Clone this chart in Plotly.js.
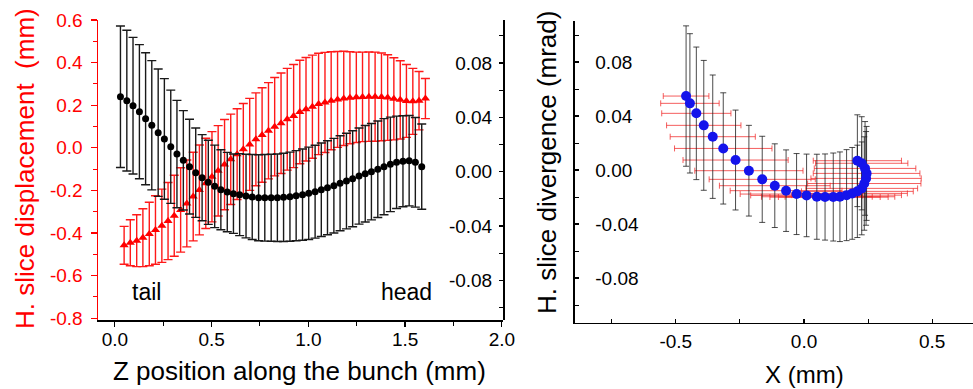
<!DOCTYPE html>
<html>
<head>
<meta charset="utf-8">
<script src="https://cdn.plot.ly/plotly-3.0.1.min.js"></script>
<style>html,body{margin:0;padding:0;background:#fff;} #chart{width:973px;height:389px;}</style>
</head>
<body>
<div id="chart"></div>
<script>
// ---- Left panel: slice data along the bunch ----
const zBlack = [0.029,0.062,0.094,0.127,0.159,0.191,0.224,0.256,0.289,0.321,0.354,0.386,0.418,0.451,0.483,0.516,0.548,0.581,0.613,0.645,0.678,0.710,0.743,0.775,0.808,0.840,0.872,0.905,0.937,0.970,1.002,1.035,1.067,1.099,1.132,1.164,1.197,1.229,1.262,1.294,1.326,1.359,1.391,1.424,1.456,1.489,1.521,1.553,1.586];
const divergence = [0.0552,0.0523,0.0486,0.0442,0.0390,0.0342,0.0287,0.0241,0.0184,0.0130,0.0084,0.0037,-0.0007,-0.0044,-0.0078,-0.0108,-0.0133,-0.0150,-0.0162,-0.0169,-0.0179,-0.0186,-0.0192,-0.0192,-0.0192,-0.0192,-0.0189,-0.0184,-0.0177,-0.0169,-0.0159,-0.0147,-0.0133,-0.0118,-0.0103,-0.0085,-0.0069,-0.0052,-0.0032,-0.0015,0.0000,0.0018,0.0037,0.0054,0.0069,0.0077,0.0081,0.0069,0.0037];
const divergenceErr = [0.0521,0.0518,0.0503,0.0494,0.0486,0.0476,0.0469,0.0444,0.0417,0.0395,0.0366,0.0349,0.0329,0.0317,0.0310,0.0304,0.0295,0.0292,0.0292,0.0302,0.0308,0.0313,0.0317,0.0319,0.0320,0.0322,0.0325,0.0328,0.0332,0.0336,0.0340,0.0342,0.0344,0.0346,0.0348,0.0350,0.0352,0.0353,0.0354,0.0355,0.0355,0.0355,0.0354,0.0348,0.0340,0.0335,0.0333,0.0330,0.0314];

const zRed = [0.048,0.080,0.113,0.145,0.178,0.210,0.243,0.275,0.307,0.340,0.372,0.405,0.437,0.470,0.502,0.534,0.567,0.599,0.632,0.664,0.697,0.729,0.761,0.794,0.826,0.859,0.891,0.924,0.956,0.988,1.021,1.053,1.086,1.118,1.151,1.183,1.215,1.248,1.280,1.313,1.345,1.378,1.410,1.442,1.475,1.507,1.540,1.572,1.605];
const displacement = [-0.458,-0.446,-0.436,-0.422,-0.405,-0.386,-0.366,-0.344,-0.319,-0.292,-0.261,-0.229,-0.198,-0.167,-0.136,-0.108,-0.079,-0.054,-0.030,-0.007,0.016,0.040,0.060,0.080,0.099,0.115,0.134,0.149,0.168,0.181,0.193,0.206,0.213,0.221,0.227,0.232,0.235,0.237,0.239,0.240,0.240,0.239,0.236,0.230,0.225,0.220,0.218,0.221,0.231];
const displacementErr = [0.089,0.108,0.122,0.136,0.149,0.161,0.172,0.181,0.190,0.198,0.204,0.208,0.211,0.212,0.212,0.212,0.212,0.212,0.213,0.215,0.216,0.218,0.222,0.226,0.231,0.236,0.239,0.242,0.243,0.243,0.242,0.238,0.235,0.230,0.225,0.221,0.216,0.212,0.210,0.210,0.209,0.206,0.201,0.193,0.184,0.171,0.155,0.137,0.094];

// ---- Right panel: phase space (X, X') ----
const phaseX = [-0.460,-0.445,-0.420,-0.391,-0.356,-0.315,-0.267,-0.215,-0.163,-0.114,-0.070,-0.029,0.010,0.050,0.082,0.114,0.140,0.166,0.188,0.208,0.225,0.235,0.242,0.244,0.238,0.225,0.208];
const phaseY = [0.0548,0.0494,0.0420,0.0331,0.0247,0.0160,0.0074,-0.0005,-0.0069,-0.0116,-0.0153,-0.0178,-0.0188,-0.0198,-0.0200,-0.0200,-0.0198,-0.0186,-0.0173,-0.0158,-0.0136,-0.0100,-0.0062,-0.0025,0.0012,0.0050,0.0069];
const phaseXErr = [0.089,0.114,0.135,0.145,0.166,0.190,0.205,0.211,0.207,0.216,0.218,0.220,0.218,0.216,0.215,0.214,0.214,0.214,0.215,0.218,0.218,0.221,0.215,0.208,0.198,0.180,0.172];
const phaseYErr = [0.0520,0.0516,0.0491,0.0481,0.0457,0.0412,0.0370,0.0336,0.0319,0.0310,0.0302,0.0300,0.0306,0.0315,0.0319,0.0326,0.0332,0.0337,0.0340,0.0342,0.0344,0.0346,0.0347,0.0348,0.0347,0.0345,0.0340];

// ---- tick labels ----
const zTickVals = [0, 0.5, 1.0, 1.5, 2.0];
const zTickText = ['0.0','0.5','1.0','1.5','2.0'];
const dispTickVals = [-0.8,-0.6,-0.4,-0.2,0,0.2,0.4,0.6];
const dispTickText = ['-0.8','-0.6','-0.4','-0.2','0.0','0.2','0.4','0.6'];
const divTickVals = [-0.08,-0.04,0,0.04,0.08];
const divTickText = ['-0.08','-0.04','0.00','0.04','0.08'];
const xTickVals = [-0.5,0,0.5];
const xTickText = ['-0.5','0.0','0.5'];

const FONT = 'Liberation Sans, Arial, sans-serif';
const W = 973, H = 389;
const RED = '#ff0000';

const traces = [
  {x: zRed, y: displacement, type:'scatter', mode:'markers', xaxis:'x', yaxis:'y',
   marker:{size:1, opacity:0}, hoverinfo:'skip',
   error_y:{type:'data', array: displacementErr, visible:true, color:'rgb(255,25,25)', thickness:1.4, width:4.5}},
  {x: zBlack, y: divergence, type:'scatter', mode:'markers', xaxis:'x', yaxis:'y2',
   marker:{size:1, opacity:0}, hoverinfo:'skip',
   error_y:{type:'data', array: divergenceErr, visible:true, color:'rgb(25,25,25)', thickness:1.4, width:4.5}},
  {x: zRed, y: displacement, type:'scatter', mode:'markers', xaxis:'x', yaxis:'y',
   marker:{symbol:'triangle-up', size:8, color:'rgb(255,0,0)'}},
  {x: zBlack, y: divergence, type:'scatter', mode:'markers', xaxis:'x', yaxis:'y2',
   marker:{symbol:'circle', size:7, color:'#000'}},
  {x: phaseX, y: phaseY, type:'scatter', mode:'markers', xaxis:'x3', yaxis:'y3',
   marker:{size:1, opacity:0}, hoverinfo:'skip',
   error_x:{type:'data', array: phaseXErr, visible:true, color:'rgba(240,40,40,0.75)', thickness:1, width:3}},
  {x: phaseX, y: phaseY, type:'scatter', mode:'markers', xaxis:'x3', yaxis:'y3',
   marker:{size:1, opacity:0}, hoverinfo:'skip',
   error_y:{type:'data', array: phaseYErr, visible:true, color:'rgba(30,30,30,0.8)', thickness:1, width:3}},
  {x: phaseX, y: phaseY, type:'scatter', mode:'markers', xaxis:'x3', yaxis:'y3',
   marker:{symbol:'circle', size:10, color:'rgb(20,20,235)'}}
];

const tickFont = {family: FONT, size: 19, color: '#000'};

const layout = {
  width: W, height: H,
  margin: {l:0, r:0, t:0, b:0},
  paper_bgcolor: '#fff', plot_bgcolor: 'rgba(0,0,0,0)',
  showlegend: false,
  font: {family: FONT, color:'#000'},
  xaxis: {
    domain: [98/W, 503/W], anchor: 'y', range: [-0.087, 2.006],
    showline: true, linecolor: '#000', linewidth: 1.5, mirror: false,
    showgrid: false, zeroline: false,
    tickmode: 'array', tickvals: zTickVals, ticktext: zTickText,
    ticks: 'outside', ticklen: 5, tickwidth: 1.2, tickcolor: '#000',
    minor: {dtick: 0.25, tick0: 0, ticks: 'outside', ticklen: 4, tickwidth: 1, tickcolor:'#000'},
    tickfont: tickFont, ticklabelstandoff: -3
  },
  yaxis: {
    domain: [1-320/H, 1-20/H], anchor: 'x', range: [-0.8085, 0.6],
    showline: true, linecolor: RED, linewidth: 1.5,
    showgrid: false, zeroline: false,
    tickmode: 'array', tickvals: dispTickVals, ticktext: dispTickText,
    ticks: 'outside', ticklen: 6, tickwidth: 1.2, tickcolor: RED,
    minor: {dtick: 0.1, tick0: 0, ticks: 'outside', ticklen: 4, tickwidth: 1, tickcolor: RED},
    tickfont: {family: FONT, size: 19, color: RED}, ticklabelstandoff: 4
  },
  // right-hand divergence axis of the left panel: line at the right edge, ticks and labels pointing into the plot
  yaxis2: {
    overlaying: 'y', anchor: 'free', side: 'left', position: 503/W, range: [-0.1092, 0.1117],
    showline: true, linecolor: '#000', linewidth: 1.5,
    showgrid: false, zeroline: false,
    tickmode: 'array', tickvals: divTickVals, ticktext: divTickText,
    ticks: 'outside', ticklen: 4, tickwidth: 1.2, tickcolor: '#000',
    minor: {dtick: 0.02, tick0: 0, ticks: 'outside', ticklen: 4, tickwidth: 1, tickcolor:'#000'},
    tickfont: tickFont, ticklabelstandoff: 3
  },
  xaxis3: {
    domain: [573/W, 1], anchor: 'y3', range: [-0.901, 0.659],
    showline: true, linecolor: '#000', linewidth: 1.5,
    showgrid: false, zeroline: false,
    tickmode: 'array', tickvals: xTickVals, ticktext: xTickText,
    ticks: 'inside', ticklen: 4, tickwidth: 1.2, tickcolor: '#000',
    minor: {dtick: 0.25, tick0: 0, ticks: 'inside', ticklen: 4, tickwidth: 1, tickcolor:'#000'},
    tickfont: tickFont, ticklabelstandoff: 1
  },
  // right-panel y axis: line at the left edge, ticks and labels to its right
  yaxis3: {
    domain: [1-322.7/H, 1-21/H], anchor: 'free', side: 'right', position: 573/W,
    range: [-0.1131, 0.1104],
    showline: true, linecolor: '#000', linewidth: 1.5,
    showgrid: false, zeroline: false,
    tickmode: 'array', tickvals: divTickVals, ticktext: divTickText,
    ticks: 'outside', ticklen: 4, tickwidth: 1.2, tickcolor: '#000',
    minor: {dtick: 0.02, tick0: 0, ticks: 'outside', ticklen: 4, tickwidth: 1, tickcolor:'#000'},
    tickfont: tickFont, ticklabelstandoff: 13
  },
  annotations: [
    {text: 'H. slice displacement\u00a0 (mm)', xref:'paper', yref:'paper', x: 25/W, y: 1-169/H,
     xanchor:'center', yanchor:'middle', textangle: -90, showarrow:false,
     font:{family: FONT, size: 26, color: RED}},
    {text: 'Z position along the bunch (mm)', xref:'paper', yref:'paper', x: 299/W, y: 1-371/H,
     xanchor:'center', yanchor:'middle', showarrow:false,
     font:{family: FONT, size: 26, color: '#000'}},
    {text: 'H. slice divergence (mrad)', xref:'paper', yref:'paper', x: 547/W, y: 1-163/H,
     xanchor:'center', yanchor:'middle', textangle: -90, showarrow:false,
     font:{family: FONT, size: 26, color: '#000'}},
    {text: 'X (mm)', xref:'paper', yref:'paper', x: 804/W, y: 1-374/H,
     xanchor:'center', yanchor:'middle', showarrow:false,
     font:{family: FONT, size: 24, color: '#000'}},
    {text: 'tail', xref:'x', yref:'y', x: 0.164, y: -0.677,
     xanchor:'center', yanchor:'middle', showarrow:false,
     font:{family: FONT, size: 23, color: '#000'}},
    {text: 'head', xref:'x', yref:'y', x: 1.506, y: -0.677,
     xanchor:'center', yanchor:'middle', showarrow:false,
     font:{family: FONT, size: 23, color: '#000'}}
  ]
};

Plotly.newPlot('chart', traces, layout, {staticPlot: true, displayModeBar: false});
</script>
</body>
</html>
